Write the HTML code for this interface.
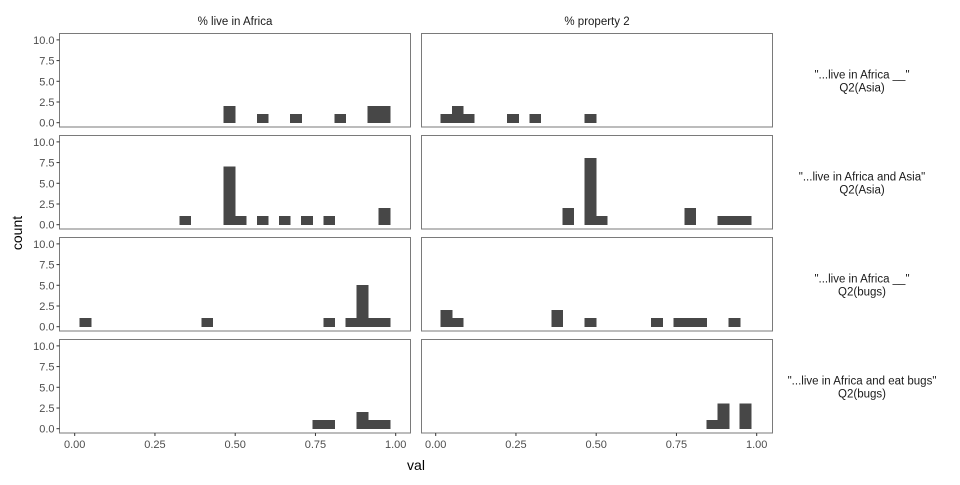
<!DOCTYPE html>
<html><head><meta charset="utf-8"><style>
body{margin:0;background:#fff;font-family:"Liberation Sans",sans-serif}
svg text{font-family:"Liberation Sans",sans-serif}
</style></head><body>
<svg id="chart" width="960" height="480" xmlns="http://www.w3.org/2000/svg"></svg>
<script>
const colLabels = ["% live in Africa", "% property 2"];
const rowLabels = [['"...live in Africa __"', 'Q2(Asia)'], ['"...live in Africa and Asia"', 'Q2(Asia)'], ['"...live in Africa __"', 'Q2(bugs)'], ['"...live in Africa and eat bugs"', 'Q2(bugs)']];
const binStart = 0.0166;
const binWidth = 0.0345;
const xTicks = [0, 0.25, 0.5, 0.75, 1];
const xTickLabels = ["0.00", "0.25", "0.50", "0.75", "1.00"];
const yTicks = [0, 2.5, 5, 7.5, 10];
const yTickLabels = ["0.0", "2.5", "5.0", "7.5", "10.0"];
// counts per bin index: [binIndex, count]
const r1c1 = [[13,2],[16,1],[19,1],[23,1],[26,2],[27,2]];
const r1c2 = [[0,1],[1,2],[2,1],[6,1],[8,1],[13,1]];
const r2c1 = [[9,1],[13,7],[14,1],[16,1],[18,1],[20,1],[22,1],[27,2]];
const r2c2 = [[11,2],[13,8],[14,1],[22,2],[25,1],[26,1],[27,1]];
const r3c1 = [[0,1],[11,1],[22,1],[24,1],[25,5],[26,1],[27,1]];
const r3c2 = [[0,2],[1,1],[10,2],[13,1],[19,1],[21,1],[22,1],[23,1],[26,1]];
const r4c1 = [[21,1],[22,1],[25,2],[26,1],[27,1]];
const r4c2 = [[24,1],[25,3],[27,3]];
const panels = [[r1c1, r1c2], [r2c1, r2c2], [r3c1, r3c2], [r4c1, r4c2]];

const NS = "http://www.w3.org/2000/svg";
const svg = document.getElementById("chart");
function mk(tag, attrs, parent) {
  const e = document.createElementNS(NS, tag);
  for (const k in attrs) e.setAttribute(k, attrs[k]);
  (parent || svg).appendChild(e);
  return e;
}
const colX = [59.5, 421.5], panelW = 351;
const rowY = [33.5, 135.5, 237.5, 339.5], panelH = 93.5;
const x0 = [74.7, 435.7], xScalePx = 321;
const yMin = -0.52, yMax = 10.77;
function sx(c, v) { return x0[c] + v * xScalePx; }
function sy(r, v) { return rowY[r] + panelH - (v - yMin) / (yMax - yMin) * panelH; }

colLabels.forEach((t, c) => {
  const e = mk("text", {x: colX[c] + panelW / 2, y: 25, "text-anchor": "middle", "font-size": 11.5, fill: "#1a1a1a"});
  
  
  e.textContent = t;
});
rowLabels.forEach((ls, r) => {
  const cy = rowY[r] + panelH / 2;
  ls.forEach((t, i) => {
    const e = mk("text", {x: 862, y: cy - 2 + i * 13, "text-anchor": "middle", "font-size": 11.5, fill: "#1a1a1a"});
    
    
    e.textContent = t;
  });
});

panels.forEach((row, r) => {
  row.forEach((data, c) => {
    const g = mk("g", {});
    
    
    data.forEach(([k, n]) => {
      const a = binStart + k * binWidth, b = a + binWidth;
      const xa = sx(c, a), xb = sx(c, b), yt = sy(r, n), yb = sy(r, 0);
      const rect = mk("rect", {x: xa, y: yt, width: xb - xa, height: yb - yt, fill: "#474747", stroke: "#474747", "stroke-width": 0.6, "shape-rendering": "crispEdges"}, g);
      
      
    });
    const border = mk("rect", {x: colX[c], y: rowY[r], width: panelW, height: panelH, fill: "none", stroke: "#7a7a7a", "stroke-width": 1}, g);
    
    
    if (c === 0) {
      yTicks.forEach((v, i) => {
        const y = sy(r, v);
        mk("line", {x1: colX[0] - 3, x2: colX[0], y1: y, y2: y, stroke: "#333", "stroke-width": 1}, g);
        const t = mk("text", {x: colX[0] - 5, y: y + 4, "text-anchor": "end", "font-size": 11, fill: "#4d4d4d"}, g);
        
        
        t.textContent = yTickLabels[i];
      });
    }
    if (r === 3) {
      xTicks.forEach((v, i) => {
        const x = sx(c, v), yb = rowY[3] + panelH;
        mk("line", {x1: x, x2: x, y1: yb, y2: yb + 3, stroke: "#333", "stroke-width": 1}, g);
        const t = mk("text", {x: x, y: yb + 15, "text-anchor": "middle", "font-size": 11, fill: "#4d4d4d"}, g);
        
        
        t.textContent = xTickLabels[i];
      });
    }
  });
});
const xt = mk("text", {x: 416, y: 470, "text-anchor": "middle", "font-size": 14, fill: "#000"});


xt.textContent = "val";
const yt = mk("text", {x: 0, y: 0, transform: "translate(22,233) rotate(-90)", "text-anchor": "middle", "font-size": 14, fill: "#000"});


yt.textContent = "count";
</script>
</body></html>
